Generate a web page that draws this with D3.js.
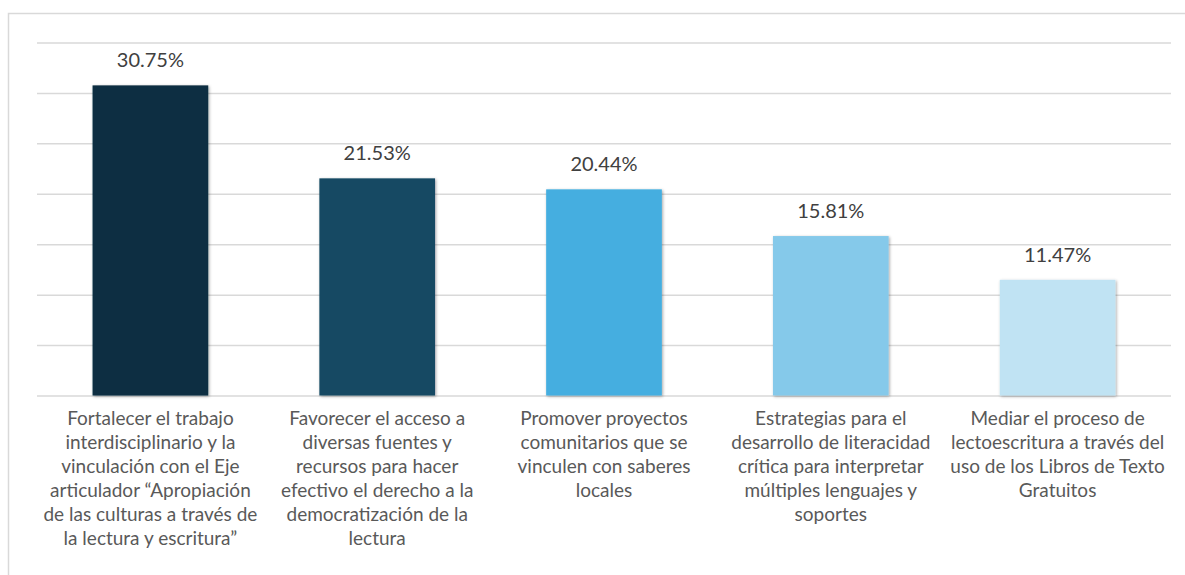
<!DOCTYPE html>
<html>
<head>
<meta charset="utf-8">
<script src="https://cdn.jsdelivr.net/npm/d3@7"></script>
<style>
  body { margin: 0; background: #fff; }
  text { font-family: Lato, "Open Sans", sans-serif; }
</style>
</head>
<body>
<div id="chart"></div>
<script>
// categories (line breaks as in the original)
var categories = [
    ["Fortalecer el trabajo", "interdisciplinario y la", "vinculación con el Eje", "articulador \u201cApropiación", "de las culturas a través de", "la lectura y escritura\u201d"],
    ["Favorecer el acceso a", "diversas fuentes y", "recursos para hacer", "efectivo el derecho a la", "democratización de la", "lectura"],
    ["Promover proyectos", "comunitarios que se", "vinculen con saberes", "locales"],
    ["Estrategias para el", "desarrollo de literacidad", "crítica para interpretar", "múltiples lenguajes y", "soportes"],
    ["Mediar el proceso de", "lectoescritura a través del", "uso de los Libros de Texto", "Gratuitos"]
]
var values = [30.75, 21.53, 20.44, 15.81, 11.47]
var barColors = ["#0d2f42", "#134a63", "#44aee0", "#85c9ea", "#c0e3f3"]
var yTicks = [0, 5, 10, 15, 20, 25, 30, 35]

var width = 1185,
    height = 575
var margin = { top: 42.5, right: 14, bottom: 179.5, left: 37 }
var innerW = width - margin.left - margin.right,
    innerH = height - margin.top - margin.bottom

var svg = d3.select("#chart")
    .append("svg")
    .attr("width", width)
    .attr("height", height)

// drop shadow for bars
var defs = svg.append("defs")
defs.append("filter")
    .attr("id", "shadow")
    .attr("x", "-10%").attr("y", "-10%")
    .attr("width", "130%").attr("height", "130%")
    .append("feDropShadow")
    .attr("dx", 1).attr("dy", 1)
    .attr("stdDeviation", 1.5)
    .attr("flood-color", "#000")
    .attr("flood-opacity", 0.35)

// chart frame
svg.append("rect")
    .attr("x", 8.5)
    .attr("y", 13.5)
    .attr("width", 1200)
    .attr("height", 600)
    .attr("fill", "none")
    .attr("stroke", "#d9d9d9")
    .attr("stroke-width", 1.5)

var g = svg.append("g")
    .attr("transform", "translate(" + margin.left + "," + margin.top + ")")

var x = d3.scaleBand()
    .domain(d3.range(values.length))
    .range([0, innerW])
    .paddingInner(0.49)
    .paddingOuter(0.245)

var y = d3.scaleLinear()
    .domain([0, 35])
    .range([innerH, 0])

// gridlines
g.append("g")
    .call(d3.axisLeft(y).tickValues(yTicks).tickSize(-innerW).tickFormat(""))
    .call(function (s) {
        s.select(".domain").remove()
        s.selectAll("line").attr("stroke", "#d9d9d9").attr("stroke-width", 1.5)
    })

// bars
g.selectAll("rect.bar")
    .data(values)
    .enter()
    .append("rect")
    .attr("class", "bar")
    .attr("x", function (d, i) { return x(i) })
    .attr("y", function (d) { return y(d) })
    .attr("width", x.bandwidth())
    .attr("height", function (d) { return innerH - y(d) })
    .attr("fill", function (d, i) { return barColors[i] })
    .attr("filter", "url(#shadow)")

// value labels
g.selectAll("text.val")
    .data(values)
    .enter()
    .append("text")
    .attr("class", "val")
    .attr("x", function (d, i) { return x(i) + x.bandwidth() / 2 })
    .attr("y", function (d) { return y(d) - 18 })
    .attr("text-anchor", "middle")
    .attr("fill", "#404040")
    .style("font-size", "20px")
    .text(function (d) { return d.toFixed(2) + "%" })

// category labels
var cats = g.selectAll("text.cat")
    .data(categories)
    .enter()
    .append("text")
    .attr("class", "cat")
    .attr("text-anchor", "middle")
    .attr("fill", "#595959")
    .style("font-size", "19px")
    .attr("transform", function (d, i) {
        return "translate(" + (x(i) + x.bandwidth() / 2) + "," + (innerH + 29) + ")"
    })

cats.selectAll("tspan")
    .data(function (d) { return d })
    .enter()
    .append("tspan")
    .attr("x", 0)
    .attr("y", function (d, i) { return i * 24 })
    .text(function (d) { return d })
</script>
</body>
</html>
